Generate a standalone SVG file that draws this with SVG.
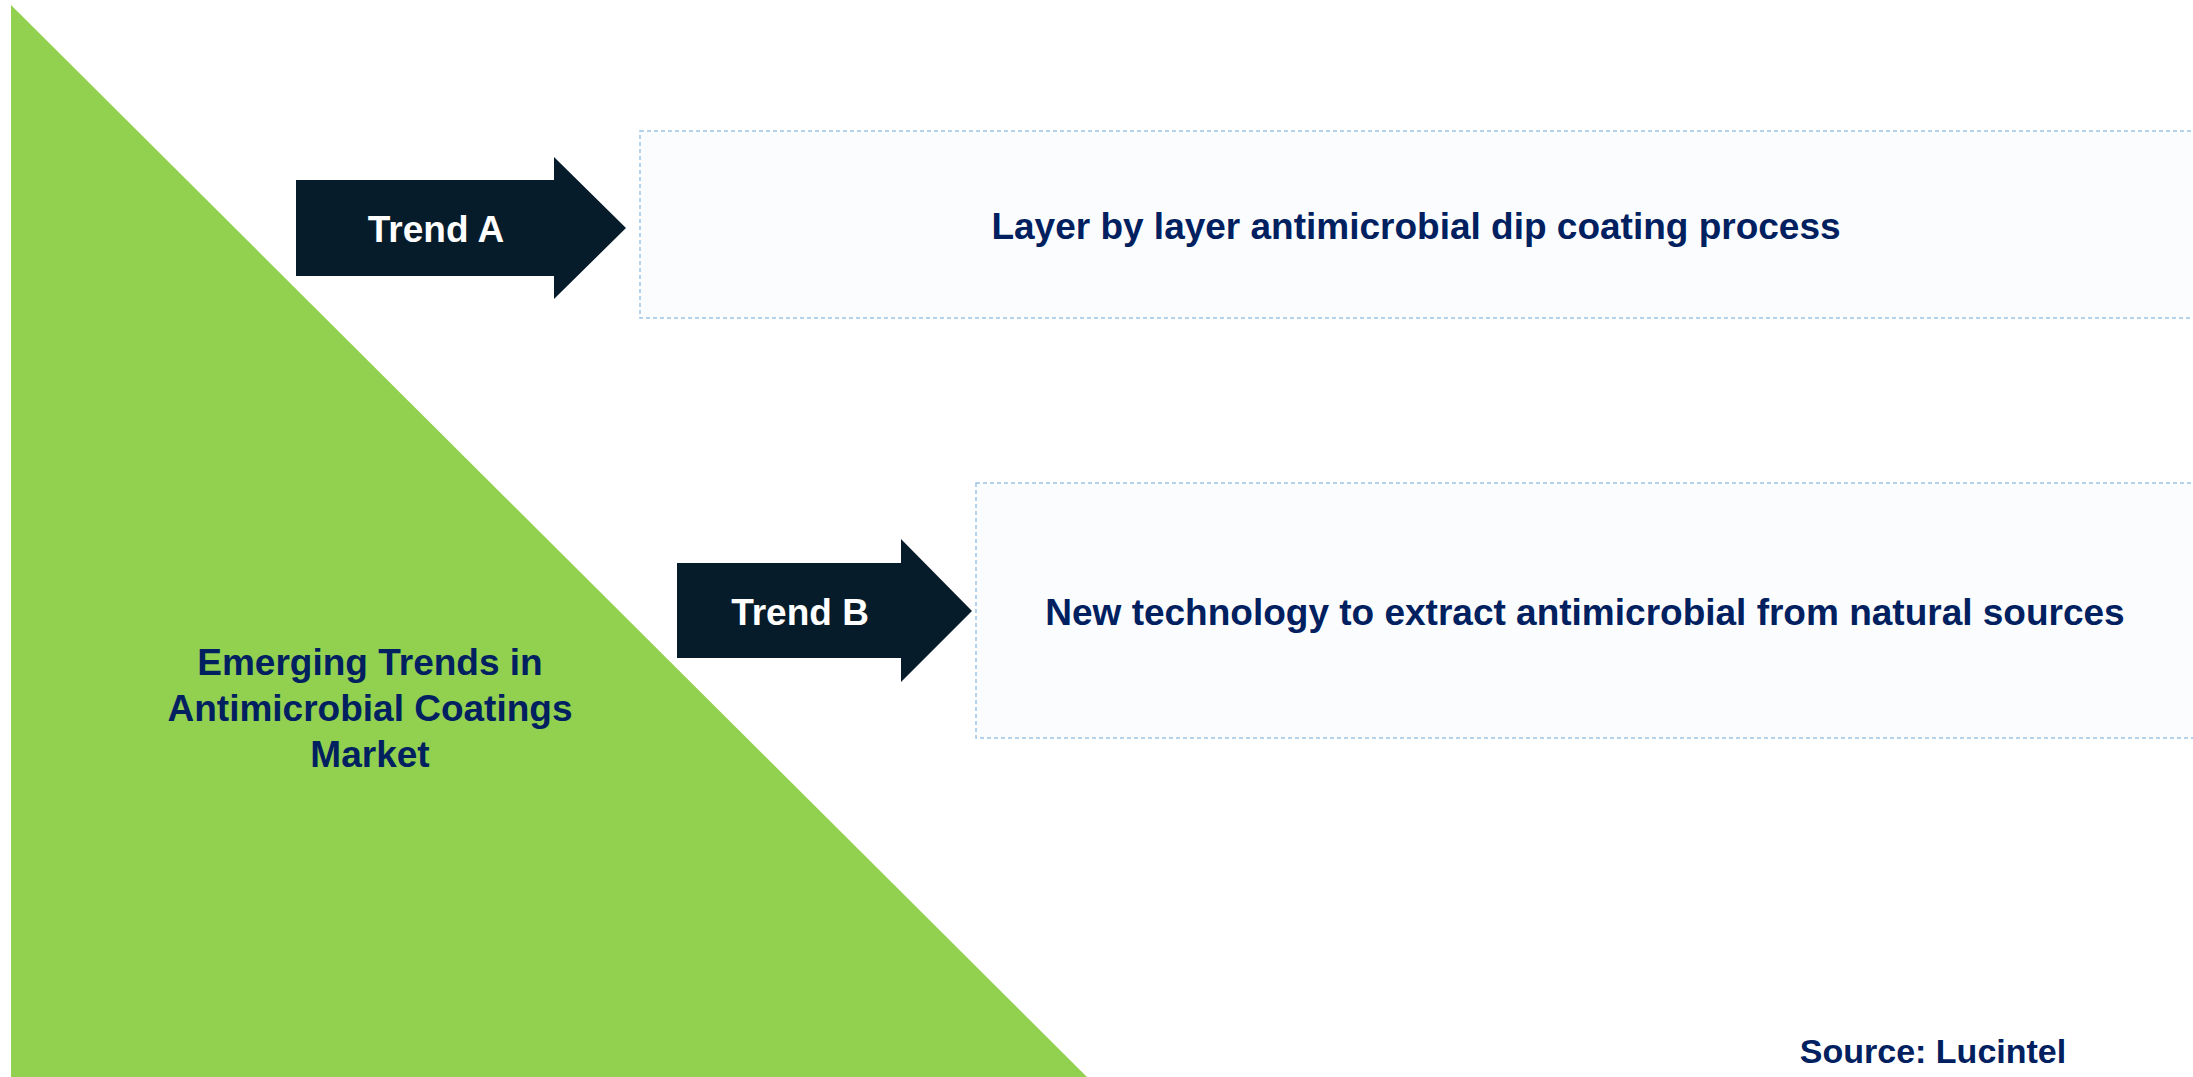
<svg xmlns="http://www.w3.org/2000/svg" width="2193" height="1077" viewBox="0 0 2193 1077">
<style>
.t{font-family:"Liberation Sans",Arial,sans-serif;font-weight:bold;}
.navy{fill:#002060;}
.white{fill:#FFFFFF;}
.box{fill:#FBFCFE;stroke:#9DC3E6;stroke-width:1.5;stroke-dasharray:4 3;}
.arrow{fill:#061C2B;}
</style>
<rect x="0" y="0" width="2193" height="1077" fill="#FFFFFF"/>
<g id="title">
<polygon points="11,5 11,1077 1087,1077" fill="#92D050"/>
<text class="t navy" font-size="37" text-anchor="middle"><tspan x="370" y="675">Emerging Trends in</tspan><tspan x="370" y="721">Antimicrobial Coatings</tspan><tspan x="370" y="767">Market</tspan></text>
</g>
<g id="boxA">
<rect class="box" x="640" y="131" width="1560" height="187"/>
<text class="t navy" x="1416" y="239" font-size="37" text-anchor="middle">Layer by layer antimicrobial dip coating process</text>
</g>
<g id="boxB">
<rect class="box" x="976" y="483" width="1224" height="255"/>
<text class="t navy" x="1585" y="625" font-size="37" text-anchor="middle">New technology to extract antimicrobial from natural sources</text>
</g>
<g id="connectors">
<g id="arrowA">
<polygon class="arrow" points="296,180 554,180 554,157 626,228 554,299 554,276 296,276"/>
<text class="t white" x="436" y="242" font-size="37" text-anchor="middle">Trend A</text>
</g>
<g id="arrowB">
<polygon class="arrow" points="677,563 901,563 901,539 972,611 901,682 901,658 677,658"/>
<text class="t white" x="800" y="625" font-size="37" text-anchor="middle">Trend B</text>
</g>
</g>
<g id="source">
<text class="t navy" x="1933" y="1063" font-size="34" text-anchor="middle">Source: Lucintel</text>
</g>
</svg>
